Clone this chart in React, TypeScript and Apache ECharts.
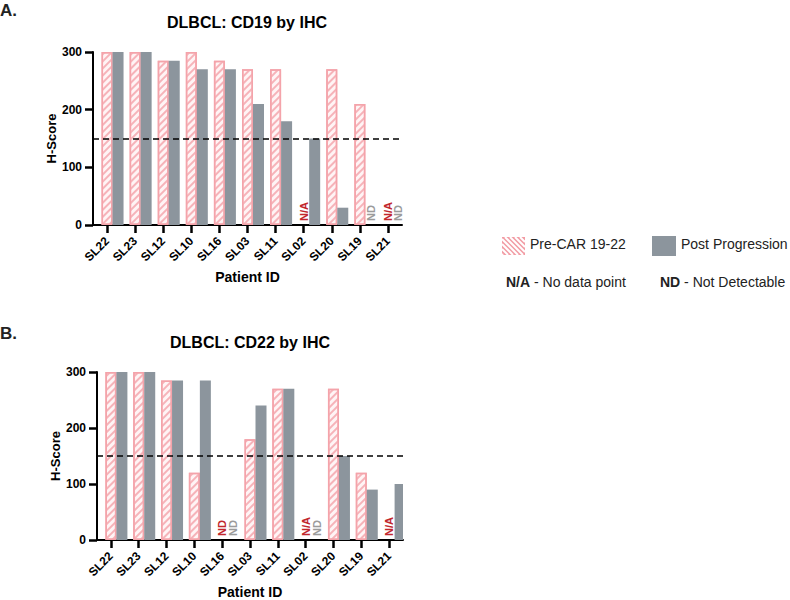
import React, { useEffect, useRef } from "react";
import * as echarts from "echarts";

const categories = ["SL22", "SL23", "SL12", "SL10", "SL16", "SL03", "SL11", "SL02", "SL20", "SL19", "SL21"];

const cd19Pre = [300, 300, 285, 300, 285, 270, 270, null, 270, 210, null];
const cd19Post = [300, 300, 285, 270, 270, 210, 180, 150, 30, null, null];
const cd19PreNote = ["", "", "", "", "", "", "", "N/A", "", "", "N/A"];
const cd19PostNote = ["", "", "", "", "", "", "", "", "", "ND", "ND"];

const cd22Pre = [300, 300, 285, 120, null, 180, 270, null, 270, 120, null];
const cd22Post = [300, 300, 285, 285, null, 240, 270, null, 150, 90, 100];
const cd22PreNote = ["", "", "", "", "ND", "", "", "N/A", "", "", "N/A"];
const cd22PostNote = ["", "", "", "", "ND", "", "", "ND", "", "", ""];

const threshold = 150;
const yTicks = [0, 100, 200, 300];

const FONT = "'Liberation Sans', Arial, Helvetica, sans-serif";
const PINK = "#f29ca4";
const GRAY = "#8c959d";
const RED = "#c1272d";
const NOTE_GRAY = "#9b9b9b";

function buildData(values: (number | null)[], notes: string[], noteColor: string) {
  return values.map((v, i) => {
    if (v === null || v === undefined) {
      const note = notes[i];
      return {
        value: 0,
        itemStyle: { color: "transparent", borderWidth: 0, decal: "none" as any },
        label: {
          show: !!note,
          formatter: note,
          position: "insideBottom",
          rotate: 90,
          align: "left",
          verticalAlign: "middle",
          distance: 4,
          color: noteColor,
          fontWeight: "bold",
          fontSize: 11,
          fontFamily: FONT,
        },
      };
    }
    return { value: v };
  });
}

function stripes(x0: number, y0: number, w: number, h: number, step: number) {
  const out: any[] = [];
  for (let c = -w; c < h; c += step) {
    const xa = Math.max(0, -c);
    const xb = Math.min(w, h - c);
    if (xb <= xa) continue;
    out.push({
      type: "line",
      shape: { x1: x0 + xa, y1: y0 + xa + c, x2: x0 + xb, y2: y0 + xb + c },
      style: { stroke: "#ffffff", lineWidth: 2 },
    });
  }
  return out;
}

export default function App() {
  const ref = useRef<HTMLDivElement>(null);
  useEffect(() => {
    if (!ref.current) return;
    const chart = echarts.init(ref.current, undefined, { renderer: "svg" });

    const grids = [
      { left: 93, top: 52, width: 309, height: 173 },
      { left: 97, top: 372, width: 306, height: 173 },
    ];

    const axisLine = { show: true, lineStyle: { color: "#000", width: 2 } };
    const axisTick = { show: true, length: 8, lineStyle: { color: "#000", width: 2.5 } };

    const xAxes = grids.map((_, i) => ({
      type: "category",
      gridIndex: i,
      data: categories,
      axisLine,
      axisTick: { ...axisTick, alignWithLabel: true },
      axisLabel: { rotate: 45, color: "#000", fontWeight: "bold", fontSize: 12, margin: 14, fontFamily: FONT, interval: 0 },
      name: "Patient ID",
      nameLocation: "middle",
      nameGap: 45,
      nameTextStyle: { color: "#000", fontWeight: "bold", fontSize: 14, fontFamily: FONT },
    }));

    const yAxes = grids.map((_, i) => ({
      type: "value",
      gridIndex: i,
      min: yTicks[0],
      max: yTicks[yTicks.length - 1],
      interval: 100,
      axisLine,
      axisTick,
      splitLine: { show: false },
      axisLabel: { color: "#000", fontWeight: "bold", fontSize: 12, margin: 11, fontFamily: FONT },
      name: "H-Score",
      nameLocation: "middle",
      nameGap: 35,
      nameTextStyle: { color: "#000", fontWeight: "bold", fontSize: 13, fontFamily: FONT },
    }));

    const datasets = [
      { pre: cd19Pre, post: cd19Post, preNote: cd19PreNote, postNote: cd19PostNote },
      { pre: cd22Pre, post: cd22Post, preNote: cd22PreNote, postNote: cd22PostNote },
    ];

    const series: any[] = [];
    datasets.forEach((d, i) => {
      series.push({
        type: "bar",
        name: "spacer" + i,
        xAxisIndex: i,
        yAxisIndex: i,
        data: categories.map(() => null),
        barWidth: 11,
        barGap: "0%",
        silent: true,
      });
      series.push({
        type: "bar",
        name: "Pre-CAR 19-22",
        xAxisIndex: i,
        yAxisIndex: i,
        barWidth: 11,
        barGap: "0%",
        data: buildData(d.pre, d.preNote, RED),
        itemStyle: {
          color: "#fff4f5",
          borderColor: "#f4a3aa",
          borderWidth: 1.5,
          decal: {
            symbol: "rect",
            dashArrayX: [1, 0],
            dashArrayY: [1.5, 2.5],
            rotation: -Math.PI / 4,
            color: "#f6b3b9",
          },
        },
      });
      series.push({
        type: "bar",
        name: "Post Progression",
        xAxisIndex: i,
        yAxisIndex: i,
        barWidth: 11,
        barGap: "0%",
        data: buildData(d.post, d.postNote, NOTE_GRAY),
        itemStyle: { color: GRAY },
        markLine: {
          silent: true,
          symbol: "none",
          label: { show: false },
          lineStyle: { color: "#000", type: [6, 4], width: 1.5 },
          data: [{ yAxis: threshold }],
        },
      });
    });

    const graphic: any[] = [
      { type: "text", x: 0, y: 10, style: { text: "A.", font: `bold 17px ${FONT}`, fill: "#222", verticalAlign: "middle" } },
      { type: "text", x: 0, y: 333, style: { text: "B.", font: `bold 17px ${FONT}`, fill: "#222", verticalAlign: "middle" } },
      { type: "text", x: 247, y: 22, style: { text: "DLBCL: CD19 by IHC", font: `bold 16px ${FONT}`, fill: "#000", align: "center", verticalAlign: "middle" } },
      { type: "text", x: 250, y: 342, style: { text: "DLBCL: CD22 by IHC", font: `bold 16px ${FONT}`, fill: "#000", align: "center", verticalAlign: "middle" } },
      { type: "rect", shape: { x: 502, y: 237, width: 23, height: 18 }, style: { fill: PINK } },
      ...stripes(502, 237, 23, 18, 5),
      { type: "text", x: 530, y: 244, style: { text: "Pre-CAR 19-22", font: `14px ${FONT}`, fill: "#222", verticalAlign: "middle" } },
      { type: "rect", shape: { x: 652, y: 236, width: 24, height: 20 }, style: { fill: GRAY } },
      { type: "text", x: 681, y: 244, style: { text: "Post Progression", font: `14px ${FONT}`, fill: "#222", verticalAlign: "middle" } },
      {
        type: "text",
        x: 506,
        y: 282,
        style: {
          text: "{b|N/A} - No data point",
          font: `14px ${FONT}`,
          fill: "#222",
          verticalAlign: "middle",
          rich: { b: { fontWeight: "bold", fontSize: 14, fontFamily: FONT, fill: "#222" } },
        },
      },
      {
        type: "text",
        x: 660,
        y: 282,
        style: {
          text: "{b|ND} - Not Detectable",
          font: `14px ${FONT}`,
          fill: "#222",
          verticalAlign: "middle",
          rich: { b: { fontWeight: "bold", fontSize: 14, fontFamily: FONT, fill: "#222" } },
        },
      },
    ];

    chart.setOption({
      animation: false,
      backgroundColor: "#fff",
      textStyle: { fontFamily: FONT },
      grid: grids,
      xAxis: xAxes,
      yAxis: yAxes,
      series,
      graphic,
    });
    return () => chart.dispose();
  }, []);
  return <div ref={ref} style={{ position: "absolute", left: 0, top: 0, width: 790, height: 600 }} />;
}
